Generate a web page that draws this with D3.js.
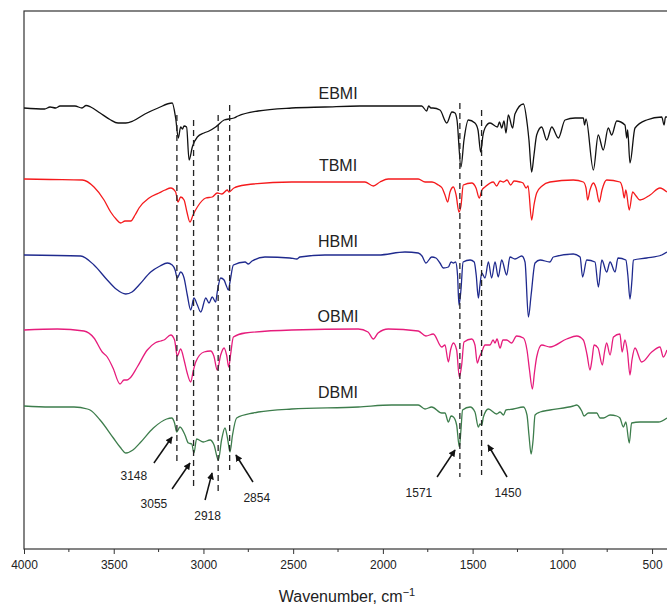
<!DOCTYPE html>
<html>
<head>
<meta charset="utf-8">
<script src="https://cdn.jsdelivr.net/npm/d3@7"></script>
<style>
  body { margin: 0; background: #fff; }
  svg { display: block; font-family: "Liberation Sans", Arial, sans-serif; }
</style>
</head>
<body>
<svg id="chart" width="667" height="609"></svg>
<script>
// FTIR spectra, [wavenumber, transmittance relative to the trace baseline]
var seriesNames = ["EBMI", "TBMI", "HBMI", "OBMI", "DBMI"];
var seriesOffsets = [442, 370, 294, 219, 143];
var seriesColors = ["#111111", "#f51a1c", "#1f2a8e", "#e61c7c", "#3d7d4c"];

var ebmi = [[4000,-1],[3885,-2],[3855,0],[3823,-1],[3799,1],[3716,1],[3677,-1],[3654,1.5],[3628,0],
  [3576,-6],[3521,-12.5],[3476,-16],[3433,-16],[3393,-14],[3326,-7],[3253,-1],[3174,4],[3155,-11],
  [3140,-31],[3127,-20],[3117,-22],[3108,-19],[3094,-20],[3080,-53],[3062,-40],[3034,-30],[2997,-26],
  [2969,-24],[2932,-20],[2885,-13],[2830,-11],[2807,-9],[2696,-4],[2508,-1],[2323,0],[2128,1],[1951,1],
  [1784,1],[1756,-4],[1745,1],[1732,-1],[1721,-1],[1682,-3],[1644,-16],[1615,-5],[1598,-6],[1587,-13],
  [1565,-60],[1548,-33],[1524,-13],[1487,-16],[1470,-23],[1455,-45],[1442,-28],[1431,-21],[1403,-16],
  [1362,-20],[1350,-15],[1338,-21],[1325,-14],[1314,-26],[1301,-8],[1277,-21],[1264,-7],[1217,3],
  [1195,-18],[1186,-33],[1171,-65],[1158,-48],[1143,-28],[1115,-20],[1087,-33],[1059,-20],[1022,-31],
  [985,-13],[929,-11],[883,-11],[876,-18],[868,-12],[827,-63],[800,-28],[772,-43],[744,-21],[725,-28],
  [697,-14],[651,-18],[641,-31],[636,-23],[623,-56],[595,-21],[530,-13],[446,-10],[433,-18],[425,-10],[417,-10]];

var tbmi = [[4000,0],[3855,-0.5],[3675,-1],[3610,-8],[3554,-21],[3517,-33],[3487,-40],[3461,-44],
  [3437,-42],[3405,-42],[3381,-36],[3359,-29],[3303,-19],[3248,-14],[3214,-11],[3182,-9],[3155,-13],
  [3142,-23],[3127,-18],[3108,-21],[3092,-33],[3075,-43],[3058,-36],[3034,-28],[2987,-19],[2951,-18],
  [2923,-14],[2897,-15],[2867,-11],[2858,-13],[2830,-9],[2768,-6],[2508,-3],[2229,-3],[2100,-3],
  [2053,-7],[2016,-3],[1970,0],[1803,0],[1765,-3],[1726,-3],[1691,-6],[1670,-9],[1654,-16],[1639,-23],
  [1626,-13],[1607,-8],[1592,-16],[1576,-33],[1565,-27],[1552,-6],[1505,-4],[1481,-9],[1463,-19],
  [1448,-11],[1431,-8],[1385,-3],[1366,-7],[1347,-2],[1328,-3],[1308,-1],[1288,-6],[1269,-2],[1236,-3],
  [1219,-4],[1202,-9],[1191,-7],[1171,-41],[1158,-26],[1143,-14],[1113,-7],[1069,-3],[939,-1],[883,-3],
  [868,-9],[859,-21],[846,-11],[827,-4],[812,-9],[794,-23],[779,-11],[753,-1],[679,-3],[665,-9],
  [655,-19],[646,-11],[627,-31],[608,-13],[589,-17],[567,-21],[511,-16],[456,-9],[417,-13]];

var hbmi = [[4000,0],[3684,-1],[3610,-10],[3536,-25],[3487,-34],[3433,-39],[3398,-37],[3359,-30],
  [3294,-17],[3242,-11],[3201,-8],[3174,-10],[3158,-15],[3146,-23],[3127,-17],[3108,-23],[3090,-40],
  [3071,-55],[3053,-43],[3034,-50],[3015,-57],[2987,-43],[2969,-48],[2951,-42],[2932,-47],[2923,-37],
  [2904,-23],[2885,-25],[2874,-30],[2861,-35],[2852,-27],[2833,-10],[2768,-7],[2750,-9],[2729,-6],
  [2657,-2],[2518,-3],[2480,-4],[2462,-2],[2323,0],[2025,0],[1877,3],[1803,2],[1782,-1],[1760,-8],
  [1728,-2],[1704,-3],[1682,-8],[1663,-13],[1635,-12],[1620,-7],[1607,-8],[1595,-7],[1584,-20],
  [1576,-50],[1565,-35],[1553,-7],[1514,-5],[1491,-7],[1480,-20],[1468,-43],[1459,-30],[1449,-18],
  [1431,-23],[1412,-7],[1394,-23],[1375,-7],[1357,-22],[1338,-5],[1310,-20],[1292,-2],[1264,-4],
  [1226,-1],[1208,-7],[1189,-62],[1174,-40],[1152,-8],[1124,-5],[1069,-7],[1050,-2],[939,1],[901,-2],
  [887,-22],[864,-5],[818,-7],[799,-32],[780,-5],[753,-17],[734,-7],[706,-17],[690,-3],[646,-5],
  [635,-20],[623,-44],[612,-25],[604,-5],[530,-3],[446,0],[417,3]];

var obmi = [[4000,0],[3814,1],[3666,-1],[3610,-8],[3564,-22],[3536,-27],[3504,-38],[3465,-54],
  [3443,-50],[3426,-50],[3409,-48],[3369,-37],[3313,-20],[3270,-13],[3238,-11],[3220,-10],[3182,-5],
  [3161,-10],[3146,-26],[3127,-19],[3108,-30],[3092,-42],[3071,-52],[3058,-42],[3043,-32],[2997,-22],
  [2960,-21],[2942,-26],[2923,-40],[2904,-25],[2885,-18],[2871,-25],[2859,-37],[2849,-25],[2833,-7],
  [2768,-3],[2508,0],[2137,1],[2083,-2],[2053,-9],[2027,-3],[1970,1],[1803,-1],[1760,-6],[1719,-4],
  [1672,-17],[1654,-15],[1635,-32],[1623,-20],[1607,-13],[1589,-20],[1574,-47],[1561,-35],[1548,-12],
  [1505,-9],[1487,-15],[1474,-33],[1462,-27],[1449,-22],[1431,-15],[1403,-15],[1386,-10],[1375,-13],
  [1364,-9],[1347,-18],[1331,-10],[1310,-10],[1283,-13],[1255,-6],[1217,-8],[1197,-20],[1183,-40],
  [1167,-59],[1155,-42],[1143,-27],[1115,-15],[1069,-17],[976,-9],[920,-6],[883,-10],[862,-25],
  [846,-40],[835,-30],[823,-15],[801,-18],[777,-35],[765,-22],[753,-13],[734,-25],[715,-7],[679,-4],
  [667,-22],[651,-10],[637,-22],[623,-45],[612,-30],[595,-18],[558,-32],[502,-22],[456,-17],[437,-27],[417,-20]];

var dbmi = [[4000,0],[3855,-1],[3721,-1],[3647,-3],[3632,-4],[3576,-14],[3502,-32],[3465,-41],
  [3432,-47],[3393,-44],[3354,-37],[3279,-22],[3205,-13],[3177,-12],[3161,-17],[3149,-26],[3131,-21],
  [3103,-29],[3084,-37],[3065,-38],[3053,-47],[3038,-33],[3001,-36],[2963,-34],[2941,-39],[2917,-54],
  [2899,-34],[2880,-22],[2866,-32],[2852,-46],[2838,-29],[2815,-12],[2722,-7],[2694,-6],[2508,-3],
  [2137,-1],[1951,1],[1803,1],[1765,-3],[1728,-1],[1672,-7],[1654,-7],[1635,-16],[1620,-10],[1607,-11],
  [1589,-19],[1574,-41],[1565,-24],[1556,-4],[1514,-1],[1487,-6],[1468,-21],[1459,-18],[1449,-19],
  [1440,-11],[1412,-3],[1366,-8],[1347,-6],[1328,-9],[1314,-4],[1273,-3],[1217,-1],[1197,-9],[1186,-29],
  [1174,-48],[1163,-34],[1152,-9],[1124,-6],[1069,-4],[939,0],[920,1],[892,-5],[879,-10],[855,-7],
  [808,-7],[790,-12],[771,-12],[734,-9],[697,-10],[679,-12],[660,-21],[646,-16],[627,-37],[614,-17],
  [567,-16],[465,-16],[417,-12]];

var spectra = [ebmi, tbmi, hbmi, obmi, dbmi];

// marked bands: dashed line extent and arrow/label positions (wavenumber, y units)
var peakWn = [3148, 3055, 2918, 2854, 1571, 1450];
var peakLineTop = [434, 429, 434, 444, 446, 439];
var peakLineBottom = [87, 59, 57, 79, 72, 74];
var arrowTail = [[3276,86],[3175,60],[2991,49],[2724,67],[1698,72],[1308,72]];
var arrowHead = [[3175,112],[3075,86],[2952,76],[2819,94],[1598,99],[1414,104]];
var peakLabelPos = [[3388,69],[3276,41],[2977,29],[2703,47],[1799,52],[1303,52]];

var majorTicks = [4000, 3500, 3000, 2500, 2000, 1500, 1000, 500];
var minorTicks = [3750, 3250, 2750, 2250, 1750, 1250, 750];

var svg = d3.select("#chart");

var x = d3.scaleLinear().domain([4000, 400]).range([24, 670]);
var y = d3.scaleLinear().domain([0, 538]).range([549, 11]);

var defs = svg.append("defs");
defs.append("marker")
    .attr("id", "arrow")
    .attr("viewBox", "0 0 10 10")
    .attr("refX", 9).attr("refY", 5)
    .attr("markerWidth", 7).attr("markerHeight", 7)
    .attr("markerUnits", "userSpaceOnUse")
    .attr("orient", "auto")
  .append("path")
    .attr("d", "M0,0 L10,5 L0,10 z")
    .style("fill", "#111");

// frame
svg.append("rect")
    .attr("x", x(4000)).attr("y", y(538))
    .attr("width", x(400) - x(4000)).attr("height", y(0) - y(538))
    .style("fill", "none").style("stroke", "#333").style("stroke-width", 1.2);

// bottom axis
var axis = svg.append("g")
    .attr("class", "axis")
    .attr("transform", "translate(0," + y(0) + ")");

axis.call(d3.axisBottom(x).tickValues(majorTicks).tickFormat(d3.format("d"))
    .tickSize(5).tickSizeOuter(0).tickPadding(6));
axis.select(".domain").remove();
axis.selectAll("line").style("stroke", "#333");
axis.selectAll("text").style("font-size", "12px").style("fill", "#222")
    .attr("font-family", "Liberation Sans, Arial, sans-serif");

axis.selectAll(".minor")
    .data(minorTicks)
  .enter().append("line")
    .attr("class", "minor")
    .attr("x1", function(d) { return x(d); })
    .attr("x2", function(d) { return x(d); })
    .attr("y1", 0).attr("y2", 3)
    .style("stroke", "#333");

svg.append("text")
    .attr("x", (x(4000) + x(400)) / 2)
    .attr("y", 602)
    .style("text-anchor", "middle")
    .style("font-size", "16px")
    .style("fill", "#222")
    .html("Wavenumber, cm<tspan dy='-6' font-size='11px'>\u22121</tspan>");

// spectra
var line = d3.line()
    .x(function(d) { return x(d[0]); })
    .curve(d3.curveMonotoneX);

spectra.forEach(function(data, i) {
    line.y(function(d) { return y(seriesOffsets[i] + d[1]); });
    svg.append("path")
        .datum(data)
        .attr("d", line)
        .style("fill", "none")
        .style("stroke", seriesColors[i])
        .style("stroke-width", 1.3)
        .style("stroke-linejoin", "round");
});

// series labels
svg.selectAll(".slabel")
    .data(seriesNames)
  .enter().append("text")
    .attr("class", "slabel")
    .attr("x", x(2250))
    .attr("y", function(d, i) { return y(seriesOffsets[i]) - 8; })
    .style("text-anchor", "middle")
    .style("font-size", "16px")
    .style("fill", "#222")
    .text(function(d) { return d; });

// dashed guide lines
svg.selectAll(".guide")
    .data(peakWn)
  .enter().append("line")
    .attr("class", "guide")
    .attr("x1", function(d) { return x(d); })
    .attr("x2", function(d) { return x(d); })
    .attr("y1", function(d, i) { return y(peakLineTop[i]); })
    .attr("y2", function(d, i) { return y(peakLineBottom[i]); })
    .style("stroke", "#222")
    .style("stroke-width", 1.3)
    .style("stroke-dasharray", "6,4");

// arrows
svg.selectAll(".arrow")
    .data(peakWn)
  .enter().append("line")
    .attr("class", "arrow")
    .attr("x1", function(d, i) { return x(arrowTail[i][0]); })
    .attr("y1", function(d, i) { return y(arrowTail[i][1]); })
    .attr("x2", function(d, i) { return x(arrowHead[i][0]); })
    .attr("y2", function(d, i) { return y(arrowHead[i][1]); })
    .style("stroke", "#111")
    .style("stroke-width", 1.5)
    .attr("marker-end", "url(#arrow)");

svg.selectAll(".plabel")
    .data(peakWn)
  .enter().append("text")
    .attr("class", "plabel")
    .attr("x", function(d, i) { return x(peakLabelPos[i][0]); })
    .attr("y", function(d, i) { return y(peakLabelPos[i][1]); })
    .style("text-anchor", "middle")
    .style("font-size", "12px")
    .style("fill", "#222")
    .text(function(d) { return d; });
</script>
</body>
</html>
